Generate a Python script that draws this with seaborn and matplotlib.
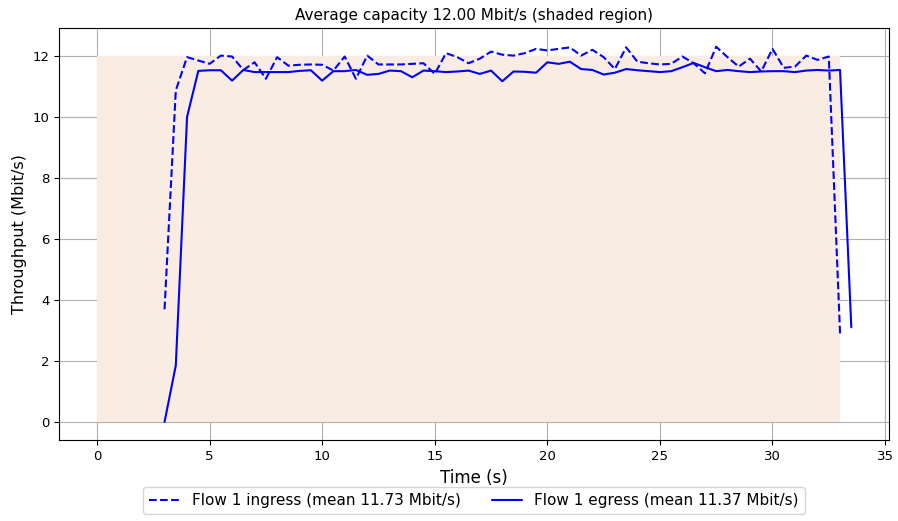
import numpy as np
import pandas as pd
import matplotlib
matplotlib.use('Agg')
import matplotlib.pyplot as plt
import seaborn as sns

times = [3.0, 3.5, 4.0, 4.5, 5.0, 5.5, 6.0, 6.5, 7.0, 7.5, 8.0, 8.5, 9.0, 9.5,
         10.0, 10.5, 11.0, 11.5, 12.0, 12.5, 13.0, 13.5, 14.0, 14.5, 15.0, 15.5,
         16.0, 16.5, 17.0, 17.5, 18.0, 18.5, 19.0, 19.5, 20.0, 20.5, 21.0, 21.5,
         22.0, 22.5, 23.0, 23.5, 24.0, 24.5, 25.0, 25.5, 26.0, 26.5, 27.0, 27.5,
         28.0, 28.5, 29.0, 29.5, 30.0, 30.5, 31.0, 31.5, 32.0, 32.5, 33.0, 33.5]

ingress = [3.69, 10.86, 11.95, 11.84, 11.73, 12.0, 11.97, 11.53, 11.78, 11.24,
           11.95, 11.67, 11.7, 11.71, 11.7, 11.51, 11.97, 11.24, 12.0, 11.71,
           11.71, 11.71, 11.73, 11.75, 11.40, 12.08, 11.95, 11.75, 11.9, 12.13,
           12.03, 12.0, 12.08, 12.22, 12.17, 12.22, 12.27, 12.0, 12.19, 11.95,
           11.56, 12.27, 11.8, 11.75, 11.71, 11.73, 11.97, 11.75, 11.42, 12.29,
           11.95, 11.64, 11.9, 11.48, 12.22, 11.6, 11.64, 12.0, 11.86, 11.97, 2.9]

egress = [0.0, 1.85, 9.99, 11.5, 11.52, 11.52, 11.18, 11.53, 11.46, 11.46,
          11.46, 11.46, 11.5, 11.52, 11.18, 11.49, 11.49, 11.53, 11.37, 11.4,
          11.51, 11.49, 11.29, 11.51, 11.49, 11.46, 11.48, 11.51, 11.40, 11.51,
          11.16, 11.48, 11.47, 11.44, 11.78, 11.73, 11.8, 11.56, 11.53, 11.38,
          11.44, 11.56, 11.52, 11.49, 11.46, 11.49, 11.62, 11.76, 11.62, 11.49,
          11.53, 11.49, 11.46, 11.48, 11.49, 11.49, 11.46, 11.51, 11.53, 11.51,
          11.53, 3.1]

capacity = 12.0
shade_span = [0.0, 33.0]

df_in = pd.DataFrame({'t': times[:len(ingress)], 'v': ingress})
df_eg = pd.DataFrame({'t': times, 'v': egress})

sns.set_style('ticks')
plt.rcParams['font.family'] = ['DejaVu Sans']
plt.rcParams['text.color'] = 'black'
plt.rcParams['axes.labelcolor'] = 'black'
plt.rcParams['xtick.color'] = 'black'
plt.rcParams['ytick.color'] = 'black'
plt.rcParams['axes.edgecolor'] = 'black'

fig, ax = plt.subplots(figsize=(8.98, 5.21), dpi=100)
fig.subplots_adjust(left=0.066, right=0.99, top=0.946, bottom=0.155)

ax.fill_between(shade_span, 0, capacity, color='#f9ede3', linewidth=0)
sns.lineplot(data=df_in, x='t', y='v', ax=ax, color='b', linestyle='--',
             linewidth=1.5, label='Flow 1 ingress (mean 11.73 Mbit/s)')
sns.lineplot(data=df_eg, x='t', y='v', ax=ax, color='b', linestyle='-',
             linewidth=1.5, label='Flow 1 egress (mean 11.37 Mbit/s)')

ax.set_xlim(-1.675, 35.175)
ax.set_ylim(-0.6, 12.9)
ax.set_xticks(range(0, 36, 5))
ax.set_yticks(range(0, 13, 2))
ax.grid(True, color='#b0b0b0', linewidth=0.8)
ax.set_axisbelow(True)
ax.set_xlabel('Time (s)', fontsize=12)
ax.set_ylabel('Throughput (Mbit/s)', fontsize=11.5)
ax.set_title('Average capacity 12.00 Mbit/s (shaded region)', fontsize=11)
ax.tick_params(labelsize=9.5)
ax.legend(loc='upper center', bbox_to_anchor=(0.5, -0.095), ncol=2,
          fontsize=11, frameon=True)

plt.savefig('out.png', dpi=100)
